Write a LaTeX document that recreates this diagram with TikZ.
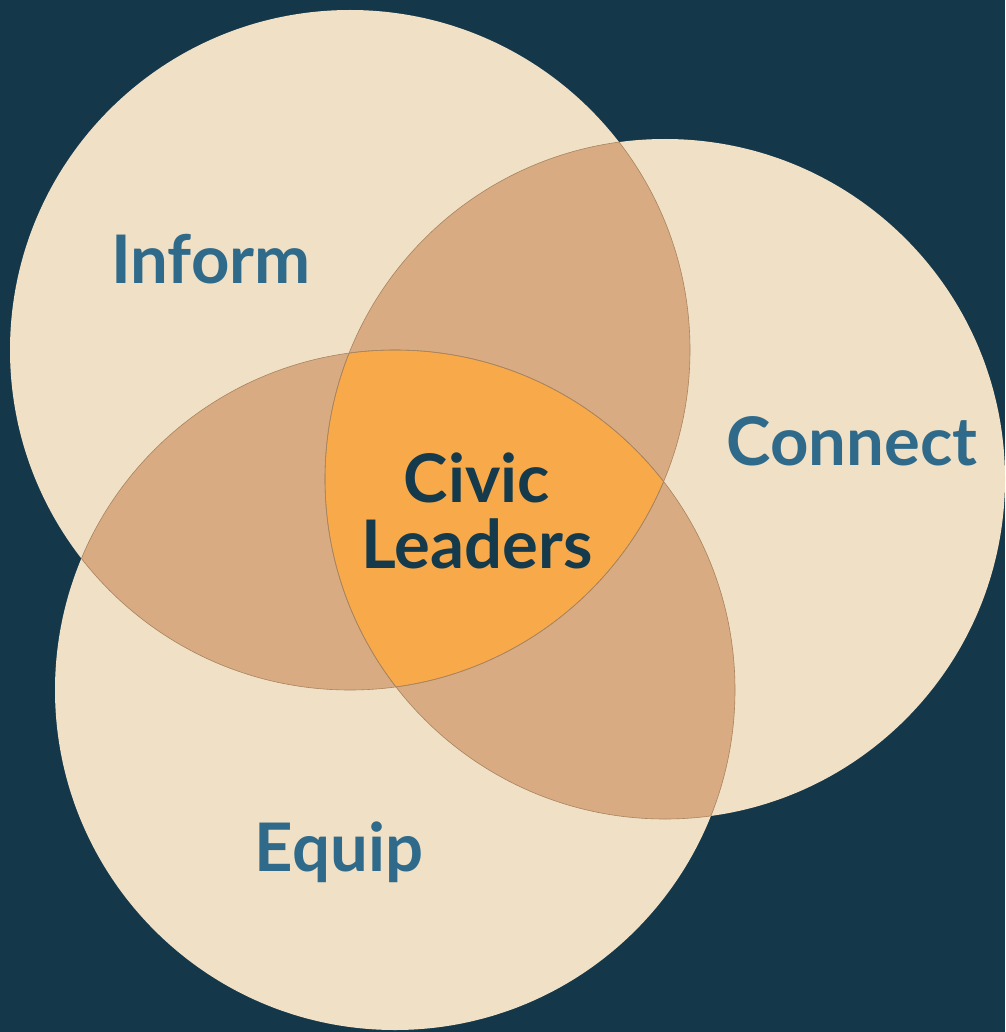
\documentclass[tikz,border=0pt]{standalone}
\usepackage{fontspec}
\setmainfont{Lato}
\definecolor{bg}{HTML}{14374A}
\definecolor{circ}{HTML}{F0E0C5}
\definecolor{lens}{HTML}{D8AB83}
\definecolor{core}{HTML}{F8AA4A}
\definecolor{edge}{HTML}{A8845F}
\definecolor{lbl}{HTML}{2F6A8A}
\definecolor{corelbl}{HTML}{153A4C}
\tikzset{
  outerlabel/.style={text=lbl, font=\fontsize{67}{66}\selectfont\bfseries, inner sep=0pt, anchor=base},
  corelabel/.style={text=corelbl, font=\fontsize{67}{66}\selectfont\bfseries, inner sep=0pt, align=center, anchor=base},
  rim/.style={draw=edge, line width=0.6pt}
}
\begin{document}
\begin{tikzpicture}[x=1pt,y=-1pt]
\fill[bg] (0,0) rectangle (1005,1032);
\useasboundingbox (0,0) rectangle (1005,1032);
\coordinate (A) at (350,350);
\coordinate (B) at (665,479);
\coordinate (C) at (395,690);
\def\R{340pt}
% base circles
\fill[circ] (A) circle (\R);
\fill[circ] (B) circle (\R);
\fill[circ] (C) circle (\R);
% pairwise lenses
\begin{scope}\clip (A) circle (\R); \fill[lens] (B) circle (\R); \end{scope}
\begin{scope}\clip (A) circle (\R); \fill[lens] (C) circle (\R); \end{scope}
\begin{scope}\clip (B) circle (\R); \fill[lens] (C) circle (\R); \end{scope}
% core
\begin{scope}\clip (A) circle (\R); \clip (B) circle (\R); \fill[core] (C) circle (\R); \end{scope}
% inner rims
\begin{scope}\clip (B) circle (\R); \draw[rim] (A) circle (\R); \end{scope}
\begin{scope}\clip (C) circle (\R); \draw[rim] (A) circle (\R); \end{scope}
\begin{scope}\clip (A) circle (\R); \draw[rim] (B) circle (\R); \end{scope}
\begin{scope}\clip (C) circle (\R); \draw[rim] (B) circle (\R); \end{scope}
\begin{scope}\clip (A) circle (\R); \draw[rim] (C) circle (\R); \end{scope}
\begin{scope}\clip (B) circle (\R); \draw[rim] (C) circle (\R); \end{scope}
% labels
\node[outerlabel] (inform) at (211,283) {Inform};
\node[outerlabel] (connect) at (852,465) {Connect};
\node[outerlabel] (equip) at (339,871) {Equip};
\node[corelabel] (civic) at (477,568) {Civic\\Leaders};
\end{tikzpicture}
\end{document}
